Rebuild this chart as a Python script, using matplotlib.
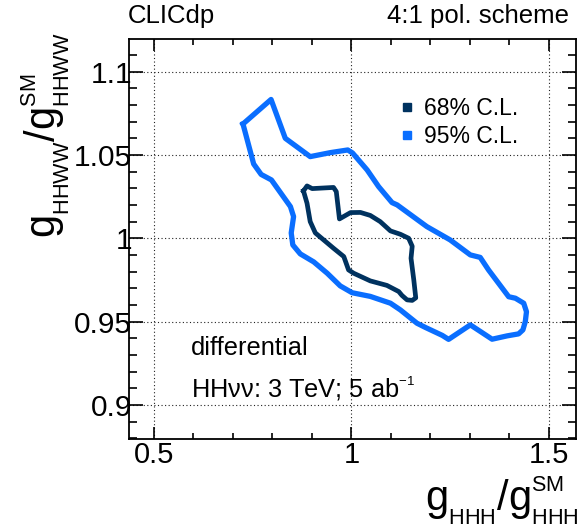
import numpy as np
import matplotlib
matplotlib.use("Agg")
import matplotlib.pyplot as plt
from matplotlib.lines import Line2D
from matplotlib.ticker import MultipleLocator

try:
    import matplotlib._mathtext as _mt
    _mt.SHRINK_FACTOR = 0.52
    _mt.FontConstantsBase.sup1 = 0.85
    _mt.FontConstantsBase.sub1 = 0.60
    _mt.FontConstantsBase.sub2 = 0.60
except Exception:
    pass

plt.rcParams['font.family'] = ['Liberation Sans', 'DejaVu Sans']
plt.rcParams['mathtext.fontset'] = 'custom'
plt.rcParams['mathtext.rm'] = 'Liberation Sans'
plt.rcParams['mathtext.default'] = 'regular'

# ---- data ----
outer_x = [0.726, 0.797, 0.833, 0.896, 0.947, 0.991, 1.003, 1.040, 1.069, 1.103,
           1.116, 1.191, 1.250, 1.301, 1.326, 1.347, 1.398, 1.415, 1.436, 1.443,
           1.440, 1.434, 1.423, 1.394, 1.356, 1.301, 1.246, 1.230, 1.187, 1.166,
           1.124, 1.099, 1.048, 1.002, 0.972, 0.939, 0.905, 0.871, 0.852, 0.848,
           0.854, 0.846, 0.798, 0.772, 0.753]
outer_y = [1.0686, 1.0833, 1.0600, 1.0490, 1.0514, 1.0530, 1.0512, 1.0410, 1.0310, 1.0214,
           1.0200, 1.0070, 0.9990, 0.9900, 0.9885, 0.9810, 0.9649, 0.9640, 0.9610, 0.9559,
           0.9500, 0.9450, 0.9426, 0.9414, 0.9394, 0.9480, 0.9393, 0.9417, 0.9465, 0.9490,
           0.9570, 0.9610, 0.9651, 0.9673, 0.9714, 0.9790, 0.9858, 0.9906, 0.9960, 1.0032,
           1.0130, 1.0190, 1.0350, 1.0383, 1.0446]

inner_x = [0.879, 0.888, 0.901, 0.955, 0.962, 0.970, 0.998, 1.023, 1.048, 1.073,
           1.099, 1.124, 1.145, 1.154, 1.151, 1.158, 1.163, 1.154, 1.141, 1.128,
           1.120, 1.090, 1.048, 1.006, 0.993, 0.981, 0.955, 0.930, 0.909, 0.896,
           0.888]
inner_y = [1.0284, 1.0314, 1.0298, 1.0305, 1.0280, 1.0116, 1.0154, 1.0155, 1.0137, 1.0100,
           1.0044, 1.0024, 1.0000, 0.9952, 0.9880, 0.9750, 0.9642, 0.9627, 0.9630, 0.9657,
           0.9680, 0.9717, 0.9744, 0.9790, 0.9810, 0.9890, 0.9940, 0.9990, 1.0032, 1.0100,
           1.0210]

x_ticks = [0.5, 1.0, 1.5]
x_ticklabels = ["0.5", "1", "1.5"]
y_ticks = [0.9, 0.95, 1.0, 1.05, 1.1]
y_ticklabels = ["0.9", "0.95", "1", "1.05", "1.1"]
labels = ["68% C.L.", "95% C.L."]

c68 = '#00325f'
c95 = '#0a6eff'

fig = plt.figure(figsize=(5.82, 5.28), dpi=100)
ax = fig.add_axes([129.3 / 582, 89 / 528, 447 / 582, 400 / 528])

ox = np.append(outer_x, outer_x[0]); oy = np.append(outer_y, outer_y[0])
ix = np.append(inner_x, inner_x[0]); iy = np.append(inner_y, inner_y[0])
ax.plot(ox, oy, color=c95, lw=3.8, solid_joinstyle='round', zorder=3)
ax.plot(ix, iy, color=c68, lw=3.4, solid_joinstyle='round', zorder=4)

ax.set_xlim(0.4385, 1.569)
ax.set_ylim(0.8795, 1.1196)
ax.set_xticks(x_ticks)
ax.set_xticklabels(x_ticklabels)
ax.set_yticks(y_ticks)
ax.set_yticklabels(y_ticklabels)
ax.xaxis.set_minor_locator(MultipleLocator(0.1))
ax.yaxis.set_minor_locator(MultipleLocator(0.01))

ax.grid(True, which='major', color='#222222', lw=0.8, linestyle=(0, (1, 2.2)))
ax.set_axisbelow(True)

ax.tick_params(which='both', direction='in', top=True, right=True, width=1.2, colors='black')
ax.tick_params(axis='x', which='major', length=8.8, labelsize=21, pad=1.5)
ax.tick_params(axis='x', which='minor', length=4.5)
ax.tick_params(axis='y', which='major', length=10, labelsize=21.5, pad=-2)
ax.tick_params(axis='y', which='minor', length=5.5)
for s in ax.spines.values():
    s.set_linewidth(1.3)

ax.set_xlabel(r"$g_{HHH}/g^{SM}_{HHH}$", fontsize=30, loc='right')
ax.xaxis.set_label_coords(1.0054, -0.088)
ax.set_ylabel(r"$g_{HHWW}/g^{SM}_{HHWW}$", fontsize=30, loc='top')
ax.yaxis.set_label_coords(-0.128, 1.0175)

fig.text(128 / 582, 1 - 23 / 528, "CLICdp", fontsize=18.5, ha='left', va='baseline')
fig.text(569 / 582, 1 - 23 / 528, "4:1 pol. scheme", fontsize=18.5, ha='right', va='baseline')

ax.text(0.137, 0.21, "differential", fontsize=18.3, transform=ax.transAxes, va='baseline')
ax.text(0.137, 0.104, "HHνν: 3 TeV; 5 ab$^{-1}$", fontsize=18.3, transform=ax.transAxes,
        va='baseline')

handles = [Line2D([], [], marker='s', linestyle='none', color=c68, markersize=5.8),
           Line2D([], [], marker='s', linestyle='none', color=c95, markersize=5.8)]
ax.legend(handles, labels, loc='upper left', bbox_to_anchor=(0.600, 0.855),
          frameon=False, fontsize=16.5, handlelength=0.8, handletextpad=0.35,
          borderpad=0, borderaxespad=0, labelspacing=0.21)

fig.savefig("out.png", dpi=100)
